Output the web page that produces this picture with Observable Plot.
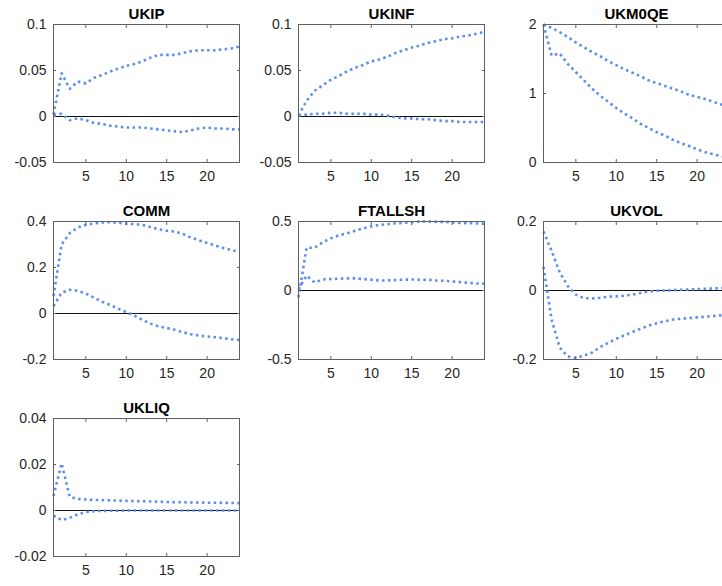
<!DOCTYPE html>
<html>
<head>
<meta charset="utf-8">
<script src="https://cdn.jsdelivr.net/npm/d3@7"></script>
<script src="https://cdn.jsdelivr.net/npm/@observablehq/plot@0.6"></script>
<style>
  html, body { margin: 0; padding: 0; background: #fff; overflow: hidden; }
  #chart { position: relative; width: 722px; height: 586px; overflow: hidden; background: #fff; }
  #chart > svg { position: absolute; }
</style>
</head>
<body>
<div id="chart"></div>
<script>
// ---- data ----
const horizon = [1,2,3,4,5,6,7,8,9,10,11,12,13,14,15,16,17,18,19,20,21,22,23,24];
const xTicks = [5, 10, 15, 20];
const xTickLabels = ["5", "10", "15", "20"];

const titles = ["UKIP", "UKINF", "UKM0QE", "COMM", "FTALLSH", "UKVOL", "UKLIQ"];

const ukipUpper = [0.002,0.047,0.030,0.038,0.036,0.042,0.045,0.049,0.052,0.055,0.057,0.060,0.064,0.067,0.067,0.067,0.069,0.071,0.072,0.072,0.072,0.073,0.074,0.076];
const ukipLower = [0.002,0.003,-0.004,-0.002,-0.004,-0.007,-0.008,-0.010,-0.011,-0.012,-0.012,-0.012,-0.013,-0.014,-0.015,-0.016,-0.017,-0.015,-0.013,-0.012,-0.013,-0.013,-0.014,-0.014];

const ukinfUpper = [0.001,0.017,0.028,0.034,0.040,0.044,0.049,0.053,0.056,0.060,0.062,0.065,0.069,0.072,0.075,0.077,0.080,0.082,0.084,0.085,0.087,0.088,0.090,0.092];
const ukinfLower = [0.001,0.002,0.003,0.003,0.004,0.004,0.003,0.003,0.003,0.002,0.002,0.001,-0.001,-0.002,-0.002,-0.003,-0.003,-0.004,-0.005,-0.005,-0.006,-0.006,-0.006,-0.006];

const ukm0qeUpper = [2.00,1.95,1.89,1.82,1.74,1.67,1.60,1.54,1.47,1.41,1.35,1.30,1.25,1.19,1.15,1.11,1.07,1.03,0.98,0.95,0.92,0.88,0.84,0.81];
const ukm0qeLower = [2.00,1.55,1.58,1.43,1.31,1.19,1.07,0.97,0.88,0.79,0.71,0.64,0.56,0.50,0.44,0.39,0.33,0.28,0.24,0.19,0.15,0.12,0.09,0.07];

const commUpper = [0.076,0.300,0.349,0.374,0.385,0.391,0.396,0.397,0.395,0.390,0.389,0.385,0.376,0.366,0.360,0.356,0.346,0.330,0.318,0.307,0.296,0.285,0.276,0.268];
const commLower = [0.032,0.091,0.103,0.099,0.087,0.069,0.051,0.037,0.021,0.006,-0.009,-0.028,-0.044,-0.056,-0.063,-0.071,-0.081,-0.090,-0.096,-0.100,-0.103,-0.107,-0.112,-0.115];

const ftallshUpper = [-0.05,0.31,0.31,0.350,0.378,0.400,0.415,0.433,0.450,0.465,0.475,0.480,0.487,0.490,0.495,0.500,0.500,0.498,0.497,0.495,0.490,0.488,0.486,0.484];
const ftallshLower = [0.01,0.108,0.058,0.080,0.083,0.085,0.088,0.088,0.083,0.078,0.073,0.073,0.076,0.078,0.080,0.078,0.078,0.073,0.070,0.066,0.061,0.056,0.051,0.049];

const ukvolUpper = [0.171,0.115,0.053,0.013,-0.012,-0.022,-0.023,-0.021,-0.018,-0.017,-0.015,-0.012,-0.007,-0.003,-0.001,0.000,0.001,0.002,0.003,0.004,0.005,0.006,0.007,0.008];
const ukvolLower = [0.068,-0.084,-0.165,-0.191,-0.196,-0.189,-0.180,-0.164,-0.152,-0.140,-0.130,-0.120,-0.111,-0.102,-0.095,-0.089,-0.084,-0.082,-0.080,-0.078,-0.076,-0.074,-0.072,-0.070];

const ukliqUpper = [0.0063,0.0205,0.0060,0.0050,0.0048,0.0046,0.0045,0.0044,0.0043,0.0042,0.0041,0.0040,0.0039,0.0038,0.0037,0.0036,0.0036,0.0035,0.0035,0.0034,0.0034,0.0033,0.0033,0.0032];
const ukliqLower = [-0.0022,-0.0042,-0.0032,-0.0017,-0.0007,-0.0003,-0.0002,-0.0001,-0.0001,0,0,0,0,0,0,0,0,0,0,0,0,0,0,0];

const yDomains = [[-0.05, 0.1], [-0.05, 0.1], [0, 2], [-0.2, 0.4], [-0.5, 0.5], [-0.2, 0.2], [-0.02, 0.04]];
const yTicks = [
  [-0.05, 0, 0.05, 0.1],
  [-0.05, 0, 0.05, 0.1],
  [0, 1, 2],
  [-0.2, 0, 0.2, 0.4],
  [-0.5, 0, 0.5],
  [-0.2, 0, 0.2],
  [-0.02, 0, 0.02, 0.04]
];
const yTickLabels = [
  ["-0.05", "0", "0.05", "0.1"],
  ["-0.05", "0", "0.05", "0.1"],
  ["0", "1", "2"],
  ["-0.2", "0", "0.2", "0.4"],
  ["-0.5", "0", "0.5"],
  ["-0.2", "0", "0.2"],
  ["-0.02", "0", "0.02", "0.04"]
];
const uppers = [ukipUpper, ukinfUpper, ukm0qeUpper, commUpper, ftallshUpper, ukvolUpper, ukliqUpper];
const lowers = [ukipLower, ukinfLower, ukm0qeLower, commLower, ftallshLower, ukvolLower, ukliqLower];

// ---- drawing ----
const bandColor = "#5b8def";
const axisColor = "#606060";
const textColor = "#262626";
const cellW = 245, cellH = 197;
const chart = document.getElementById("chart");

titles.forEach((title, i) => {
  const rows = [];
  horizon.forEach((h, j) => {
    rows.push({h, v: uppers[i][j], band: "upper"});
    rows.push({h, v: lowers[i][j], band: "lower"});
  });
  const xFmt = new Map(xTicks.map((t, k) => [t, xTickLabels[k]]));
  const yFmt = new Map(yTicks[i].map((t, k) => [t, yTickLabels[i][k]]));

  const svg = Plot.plot({
    width: cellW,
    height: cellH,
    marginLeft: 53,
    marginRight: 6,
    marginTop: 24,
    marginBottom: 35,
    style: {fontFamily: "'Liberation Sans', Arial, Helvetica, sans-serif", fontSize: "14px", background: "transparent", overflow: "visible"},
    x: {domain: [1, 24], label: null},
    y: {domain: yDomains[i], label: null},
    marks: [
      Plot.ruleY([0], {stroke: "#111", strokeWidth: 1}),
      Plot.line(rows, {x: "h", y: "v", z: "band", stroke: bandColor, strokeWidth: 2.6, strokeDasharray: "2.5,3.4", strokeLinecap: "butt"}),
      Plot.frame({stroke: axisColor, strokeWidth: 1}),
      // inward tick marks on all four sides
      Plot.axisX({ticks: xTicks, anchor: "bottom", tickSize: 3, dy: -3, fill: "none", stroke: axisColor, label: null}),
      Plot.axisX({ticks: xTicks, anchor: "top", tickSize: 3, dy: 3, fill: "none", stroke: axisColor, label: null}),
      Plot.axisY({ticks: yTicks[i], anchor: "left", tickSize: 3, dx: 3, fill: "none", stroke: axisColor, label: null}),
      Plot.axisY({ticks: yTicks[i], anchor: "right", tickSize: 3, dx: -3, fill: "none", stroke: axisColor, label: null}),
      // tick labels
      Plot.axisX({ticks: xTicks, anchor: "bottom", tickSize: 0, tickPadding: 9, tickFormat: d => xFmt.get(d), fill: textColor, stroke: "none", label: null}),
      Plot.axisY({ticks: yTicks[i], anchor: "left", tickSize: 0, tickPadding: 7, tickFormat: d => yFmt.get(d), fill: textColor, stroke: "none", label: null}),
      // panel title
      Plot.text([title], {frameAnchor: "top", lineAnchor: "bottom", dy: -5.5, text: d => d, fontWeight: "bold", fontSize: 15, fill: "#000"})
    ]
  });
  const row = Math.floor(i / 3), col = i % 3;
  svg.style.left = (col * cellW) + "px";
  svg.style.top = (row * cellH) + "px";
  chart.appendChild(svg);
});
</script>
</body>
</html>
